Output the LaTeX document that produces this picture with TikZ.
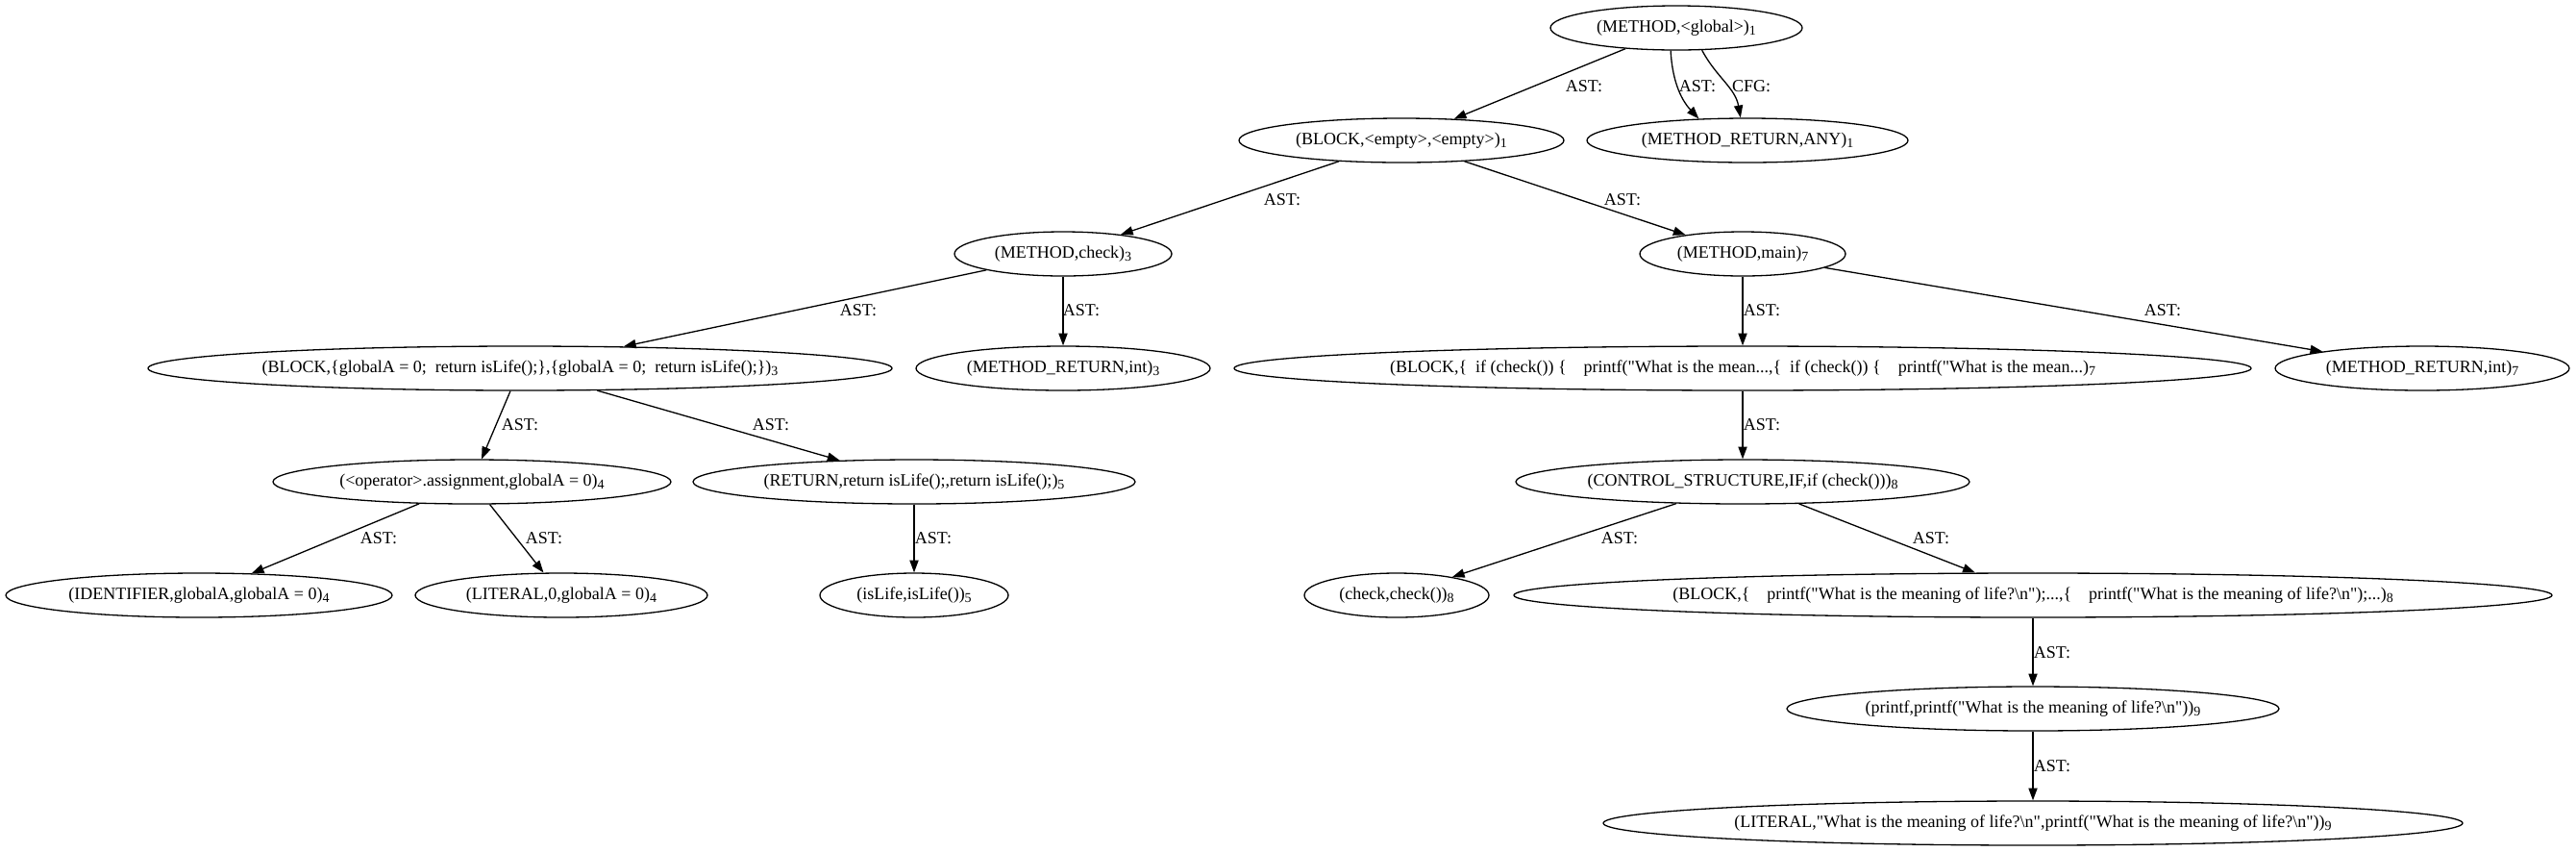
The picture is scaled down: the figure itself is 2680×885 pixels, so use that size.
\documentclass[tikz,border=0pt]{standalone}
\usepackage{fontspec}
\setmainfont{Liberation Serif}[Ligatures=TeXOff]
\usetikzlibrary{arrows.meta,shapes.geometric}

\newcommand\idx[1]{\raisebox{-0.4ex}{\fontsize{7}{8}\selectfont#1}}
\tikzset{
  ast/.style={draw,ellipse,inner xsep=1pt,inner ysep=0pt,minimum height=23pt},
  edge/.style={-{Triangle[length=6.4pt,width=4.6pt]}},
  lbl/.style={inner sep=0pt}
}

\begin{document}
\begin{tikzpicture}[x=0.5pt,y=-0.5pt,line width=0.65pt,line join=round,font=\fontsize{9}{11}\selectfont]
  \useasboundingbox (0,0) rectangle (2680,885);
  % cpg nodes, one row per depth
  \node[ast,minimum width=131pt] (glob) at (1744,29) {(METHOD,<global>)\idx{1}};
  \node[ast,minimum width=169pt] (blk1) at (1458,146) {(BLOCK,<empty>,<empty>)\idx{1}};
  \node[ast,minimum width=167pt] (ret1) at (1818,146) {(METHOD\_RETURN,ANY)\idx{1}};
  \node[ast,minimum width=113pt] (chk) at (1106,264) {(METHOD,check)\idx{3}};
  \node[ast,minimum width=107pt] (mainm) at (1813,264) {(METHOD,main)\idx{7}};
  \node[ast,minimum width=387pt] (blk3) at (541,383) {(BLOCK,\{globalA = 0;~~return isLife();\},\{globalA = 0;~~return isLife();\})\idx{3}};
  \node[ast,minimum width=153pt] (ret3) at (1106,383) {(METHOD\_RETURN,int)\idx{3}};
  \node[ast,minimum width=529pt] (blk7) at (1813,383) {(BLOCK,\{~~if (check()) \{~~~~printf("What is the mean...,\{~~if (check()) \{~~~~printf("What is the mean...)\idx{7}};
  \node[ast,minimum width=153pt] (ret7) at (2520,383) {(METHOD\_RETURN,int)\idx{7}};
  \node[ast,minimum width=207pt] (asgn) at (491,501) {(<operator>.assignment,globalA = 0)\idx{4}};
  \node[ast,minimum width=230pt] (rtn) at (951,501) {(RETURN,return isLife();,return isLife();)\idx{5}};
  \node[ast,minimum width=236pt] (ctrl) at (1813,501) {(CONTROL\_STRUCTURE,IF,if (check()))\idx{8}};
  \node[ast,minimum width=201pt] (ident) at (207,619) {(IDENTIFIER,globalA,globalA = 0)\idx{4}};
  \node[ast,minimum width=152pt] (lit0) at (584,619) {(LITERAL,0,globalA = 0)\idx{4}};
  \node[ast,minimum width=98pt] (islife) at (951,619) {(isLife,isLife())\idx{5}};
  \node[ast,minimum width=96pt] (chkc) at (1453,619) {(check,check())\idx{8}};
  \node[ast,minimum width=540pt] (blk8) at (2115,619) {(BLOCK,\{~~~~printf("What is the meaning of life?\textbackslash n");...,\{~~~~printf("What is the meaning of life?\textbackslash n");...)\idx{8}};
  \node[ast,minimum width=256pt] (prf) at (2115,737) {(printf,printf("What is the meaning of life?\textbackslash n"))\idx{9}};
  \node[ast,minimum width=447pt] (lit9) at (2115,856) {(LITERAL,"What is the meaning of life?\textbackslash n",printf("What is the meaning of life?\textbackslash n"))\idx{9}};
  % edges
  \draw[edge] (glob) -- (blk1);
  \draw[edge] (glob.-104) .. controls (1740,88) and (1751,106) .. (ret1.156);
  \draw[edge] (glob.-41) to[out=-62,in=100] (ret1.107);
  \draw[edge] (blk1) -- (chk);
  \draw[edge] (blk1) -- (mainm);
  \draw[edge] (chk) -- (blk3);
  \draw[edge] (chk) -- (ret3);
  \draw[edge] (mainm) -- (blk7);
  \draw[edge] (mainm) -- (ret7);
  \draw[edge] (blk3) -- (asgn);
  \draw[edge] (blk3) -- (rtn);
  \draw[edge] (blk7) -- (ctrl);
  \draw[edge] (asgn) -- (ident);
  \draw[edge] (asgn) -- (lit0);
  \draw[edge] (rtn) -- (islife);
  \draw[edge] (ctrl) -- (chkc);
  \draw[edge] (ctrl) -- (blk8);
  \draw[edge] (blk8) -- (prf);
  \draw[edge] (prf) -- (lit9);
  % edge labels
  \node[lbl] (l1) at (1648,90) {AST:};
  \node[lbl] (l2) at (1766,90) {AST:};
  \node[lbl] (l3) at (1822,90) {CFG:};
  \node[lbl] (l4) at (1334,208) {AST:};
  \node[lbl] (l5) at (1688,208) {AST:};
  \node[lbl] (l6) at (893,323) {AST:};
  \node[lbl] (l7) at (1125,323) {AST:};
  \node[lbl] (l8) at (1833,323) {AST:};
  \node[lbl] (l9) at (2250,323) {AST:};
  \node[lbl] (l10) at (541,442) {AST:};
  \node[lbl] (l11) at (802,442) {AST:};
  \node[lbl] (l12) at (1833,442) {AST:};
  \node[lbl] (l13) at (394,560) {AST:};
  \node[lbl] (l14) at (566,560) {AST:};
  \node[lbl] (l15) at (971,560) {AST:};
  \node[lbl] (l16) at (1685,560) {AST:};
  \node[lbl] (l17) at (2009,560) {AST:};
  \node[lbl] (l18) at (2135,679) {AST:};
  \node[lbl] (l19) at (2135,797) {AST:};
\end{tikzpicture}
\end{document}
